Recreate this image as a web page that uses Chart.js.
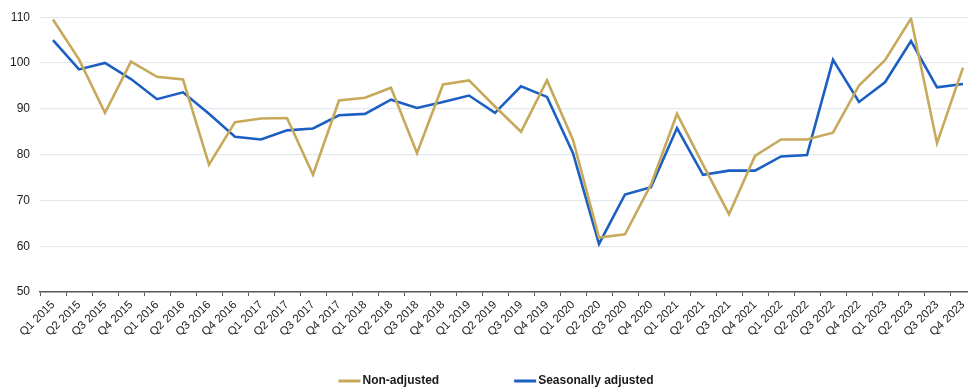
<!DOCTYPE html>
<html>
<head>
<meta charset="utf-8">
<script src="https://cdn.jsdelivr.net/npm/chart.js@4.4.1/dist/chart.umd.min.js"></script>
<style>
  html, body { margin: 0; padding: 0; background: #ffffff; overflow: hidden; }
  #wrap { position: relative; width: 980px; height: 389px; }
</style>
</head>
<body>
<div id="wrap"><canvas id="chart" width="980" height="389"></canvas></div>
<script>
// Quarterly index, 2015 = base period
const quarters = [
  'Q1 2015','Q2 2015','Q3 2015','Q4 2015',
  'Q1 2016','Q2 2016','Q3 2016','Q4 2016',
  'Q1 2017','Q2 2017','Q3 2017','Q4 2017',
  'Q1 2018','Q2 2018','Q3 2018','Q4 2018',
  'Q1 2019','Q2 2019','Q3 2019','Q4 2019',
  'Q1 2020','Q2 2020','Q3 2020','Q4 2020',
  'Q1 2021','Q2 2021','Q3 2021','Q4 2021',
  'Q1 2022','Q2 2022','Q3 2022','Q4 2022',
  'Q1 2023','Q2 2023','Q3 2023','Q4 2023'
];

const nonAdjusted = [
  109.5, 100.8, 89.1, 100.3,
  97.0, 96.4, 77.8, 87.1,
  87.9, 88.0, 75.6, 91.8,
  92.4, 94.6, 80.3, 95.3,
  96.2, 90.5, 85.0, 96.2,
  83.2, 61.9, 62.6, 73.5,
  88.9, 77.8, 67.0, 79.7,
  83.3, 83.3, 84.8, 95.1,
  100.6, 109.7, 82.5, 99.0
];

const seasonallyAdjusted = [
  105.0, 98.6, 100.0, 96.5,
  92.1, 93.6, 88.9, 83.9,
  83.3, 85.3, 85.7, 88.6,
  88.9, 92.0, 90.2, 91.5,
  92.9, 89.1, 94.9, 92.6,
  80.3, 60.5, 71.3, 72.9,
  85.8, 75.6, 76.5, 76.5,
  79.6, 79.9, 100.7, 91.5,
  95.8, 104.8, 94.7, 95.4
];

const yTicks = [50, 60, 70, 80, 90, 100, 110];

const seriesNames = ['Non-adjusted', 'Seasonally adjusted'];
const seriesColors = ['#c6a95b', '#1c5fc2'];

// Legend drawn under the axis: short line sample followed by bold label
const bottomLegend = {
  id: 'bottomLegend',
  afterDraw(chart, args, opts) {
    const ctx = chart.ctx;
    ctx.save();
    ctx.font = 'bold 12px "Liberation Sans", Arial, sans-serif';
    ctx.textBaseline = 'middle';
    const sample = 22, gap = 2, spacing = 75;
    const items = chart.data.datasets.map(ds => ({
      text: ds.label, color: ds.borderColor,
      w: sample + gap + ctx.measureText(ds.label).width
    }));
    const total = items.reduce((s, it) => s + it.w, 0) + spacing * (items.length - 1);
    let x = opts.centerX - total / 2;
    const y = opts.y;
    items.forEach(it => {
      ctx.strokeStyle = it.color;
      ctx.lineWidth = 3;
      ctx.beginPath();
      ctx.moveTo(x, y);
      ctx.lineTo(x + sample, y);
      ctx.stroke();
      ctx.fillStyle = '#1a1a1a';
      ctx.fillText(it.text, x + sample + gap, y);
      x += it.w + spacing;
    });
    ctx.restore();
  }
};

new Chart(document.getElementById('chart'), {
  type: 'line',
  data: {
    labels: quarters,
    datasets: [
      {
        label: seriesNames[0],
        data: nonAdjusted,
        borderColor: seriesColors[0],
        backgroundColor: seriesColors[0],
        borderWidth: 2.6,
        pointRadius: 0,
        tension: 0
      },
      {
        label: seriesNames[1],
        data: seasonallyAdjusted,
        borderColor: seriesColors[1],
        backgroundColor: seriesColors[1],
        borderWidth: 2.6,
        pointRadius: 0,
        tension: 0
      }
    ]
  },
  options: {
    responsive: false,
    animation: false,
    events: [],
    layout: { padding: { top: 16, right: 4, bottom: 48, left: 0 } },
    plugins: {
      legend: { display: false },
      tooltip: { enabled: false },
      bottomLegend: { centerX: 496, y: 381 }
    },
    scales: {
      x: {
        offset: true,
        grid: {
          offset: true,
          drawOnChartArea: false,
          drawTicks: true,
          tickLength: 4,
          tickColor: '#5a5a5a',
          tickWidth: 1
        },
        border: { display: true, color: '#5a5a5a', width: 1.5 },
        ticks: {
          autoSkip: false,
          maxRotation: 45,
          minRotation: 45,
          padding: 2,
          color: '#222222',
          font: { family: '"Liberation Sans", Arial, sans-serif', size: 11.5 }
        }
      },
      y: {
        min: 50,
        max: 110,
        afterBuildTicks(scale) {
          scale.ticks = yTicks.map(v => ({ value: v }));
        },
        afterFit(scale) { scale.width = 40; },
        grid: {
          color: '#e2e9ef',
          lineWidth: 1.2,
          drawTicks: false
        },
        border: { display: false },
        ticks: {
          padding: 10,
          color: '#222222',
          font: { family: '"Liberation Sans", Arial, sans-serif', size: 12 }
        }
      }
    }
  },
  plugins: [bottomLegend]
});
</script>
</body>
</html>
